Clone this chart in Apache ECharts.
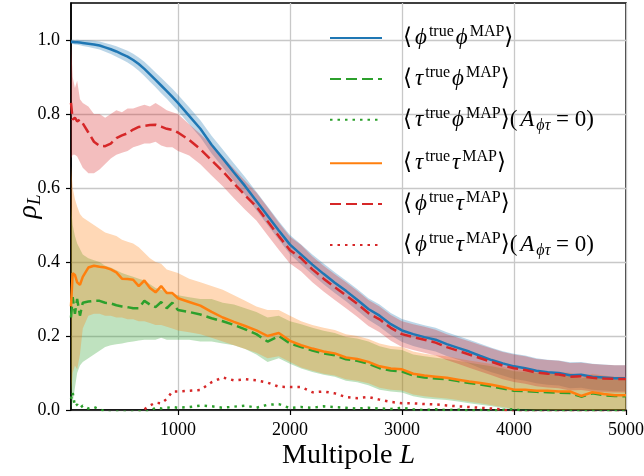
<!DOCTYPE html>
<html>
<head>
<meta charset="utf-8">
<script src="https://cdn.jsdelivr.net/npm/echarts@6/dist/echarts.min.js"></script>
<style>
  html, body { margin: 0; padding: 0; background: #fff; }
  #chart { width: 644px; height: 476px; }
</style>
</head>
<body>
<div id="chart"></div>
<script>
// multipole bins
var L = [45, 60, 80, 100, 125, 150, 200, 250, 300, 350, 400, 450, 500, 550, 600, 650, 700, 750, 800, 850, 900, 950, 1000,
  1100, 1200, 1300, 1400, 1500, 1600, 1700, 1800, 1900, 2000, 2100, 2200, 2300, 2400, 2500, 2600, 2700, 2800, 2900, 3000,
  3100, 3200, 3300, 3400, 3500, 3600, 3700, 3800, 3900, 4000, 4100, 4200, 4300, 4400, 4500, 4600, 4700, 4800, 4900, 5000];

// <phi_true phi_MAP>
var phiPhi = [0.995, 0.995, 0.994, 0.994, 0.993, 0.992, 0.99, 0.988, 0.985, 0.98, 0.975, 0.969, 0.962, 0.955, 0.946, 0.935, 0.922, 0.907, 0.892, 0.877, 0.862, 0.846, 0.83,
  0.795, 0.76, 0.717, 0.68, 0.642, 0.605, 0.565, 0.525, 0.485, 0.447, 0.42, 0.393, 0.368, 0.344, 0.322, 0.298, 0.273, 0.255, 0.232, 0.215,
  0.205, 0.197, 0.19, 0.178, 0.168, 0.158, 0.146, 0.135, 0.126, 0.118, 0.113, 0.106, 0.102, 0.1, 0.094, 0.095, 0.09, 0.088, 0.086, 0.086];
var phiPhiHi = [1.001, 1.001, 1.0, 1.001, 1.0, 1.0, 0.999, 0.998, 0.996, 0.992, 0.988, 0.983, 0.977, 0.971, 0.963, 0.953, 0.941, 0.927, 0.912, 0.898, 0.883, 0.868, 0.852,
  0.818, 0.783, 0.741, 0.704, 0.666, 0.629, 0.59, 0.55, 0.51, 0.473, 0.447, 0.42, 0.396, 0.372, 0.35, 0.327, 0.302, 0.285, 0.262, 0.246,
  0.237, 0.229, 0.222, 0.21, 0.2, 0.19, 0.179, 0.168, 0.159, 0.152, 0.147, 0.14, 0.136, 0.134, 0.129, 0.13, 0.125, 0.123, 0.121, 0.121];
var phiPhiLo = [0.989, 0.989, 0.988, 0.987, 0.986, 0.984, 0.981, 0.978, 0.974, 0.968, 0.962, 0.955, 0.947, 0.939, 0.929, 0.917, 0.903, 0.887, 0.872, 0.856, 0.841, 0.824, 0.808,
  0.772, 0.737, 0.693, 0.656, 0.618, 0.581, 0.54, 0.5, 0.46, 0.421, 0.393, 0.366, 0.34, 0.316, 0.294, 0.269, 0.244, 0.225, 0.202, 0.184,
  0.173, 0.165, 0.158, 0.146, 0.136, 0.126, 0.113, 0.102, 0.093, 0.084, 0.079, 0.072, 0.068, 0.066, 0.059, 0.06, 0.055, 0.053, 0.051, 0.051];

// <tau_true phi_MAP>
var tauPhi = [0.25, 0.305, 0.26, 0.3, 0.255, 0.29, 0.293, 0.295, 0.295, 0.29, 0.288, 0.283, 0.28, 0.278, 0.275, 0.275, 0.295, 0.285, 0.278, 0.292, 0.275, 0.29, 0.27,
  0.265, 0.258, 0.248, 0.24, 0.23, 0.218, 0.205, 0.185, 0.2, 0.18, 0.17, 0.161, 0.153, 0.148, 0.137, 0.133, 0.125, 0.113, 0.107, 0.104,
  0.093, 0.088, 0.085, 0.083, 0.078, 0.073, 0.069, 0.064, 0.058, 0.052, 0.051, 0.049, 0.048, 0.047, 0.046, 0.036, 0.045, 0.04, 0.038, 0.037];
var tauPhiHi = [0.55, 0.5, 0.47, 0.45, 0.435, 0.42, 0.41, 0.405, 0.4, 0.39, 0.385, 0.378, 0.37, 0.365, 0.36, 0.355, 0.35, 0.34, 0.33, 0.325, 0.32, 0.315, 0.31,
  0.305, 0.3, 0.3, 0.29, 0.285, 0.275, 0.265, 0.25, 0.255, 0.24, 0.232, 0.222, 0.214, 0.208, 0.197, 0.193, 0.185, 0.172, 0.165, 0.162,
  0.15, 0.145, 0.141, 0.138, 0.133, 0.128, 0.123, 0.118, 0.112, 0.105, 0.103, 0.1, 0.098, 0.097, 0.095, 0.085, 0.093, 0.088, 0.085, 0.084];
var tauPhiLo = [0, 0.02, 0.06, 0.1, 0.12, 0.13, 0.14, 0.15, 0.16, 0.17, 0.175, 0.178, 0.18, 0.183, 0.185, 0.188, 0.19, 0.19, 0.19, 0.195, 0.19, 0.19, 0.19,
  0.19, 0.185, 0.185, 0.18, 0.175, 0.165, 0.15, 0.13, 0.14, 0.125, 0.112, 0.103, 0.095, 0.09, 0.079, 0.075, 0.067, 0.055, 0.05, 0.047,
  0.037, 0.032, 0.029, 0.027, 0.023, 0.018, 0.014, 0.01, 0.005, 0, 0, 0, 0, 0, 0, 0, 0, 0, 0, 0];
// <tau_true phi_MAP>, A_phitau = 0
var tauPhiNull = [0.03, 0.048, 0.01, 0.015, 0.005, 0.012, 0.004, 0.008, 0.002, -0.004, -0.006, -0.005, -0.004, -0.006, -0.005, -0.004, -0.006, -0.002, 0.006, 0.004, 0.006, 0.008, 0.006,
  0.008, 0.012, 0.01, 0.006, 0.009, 0.012, 0.006, 0.014, 0.016, 0.005, 0.008, 0.006, 0.01, 0.008, 0.006, 0.004, 0.006, 0.004, 0.003, 0.006,
  0.002, 0.0, 0.002, 0.0, 0.001, -0.002, 0.0, -0.002, 0.0, 0.002, -0.003, -0.004, -0.003, -0.004, -0.003, -0.004, -0.003, -0.004, -0.003, -0.004];

// <tau_true tau_MAP>
var tauTau = [0.28, 0.37, 0.365, 0.345, 0.338, 0.36, 0.385, 0.39, 0.387, 0.385, 0.38, 0.372, 0.355, 0.354, 0.352, 0.335, 0.35, 0.33, 0.318, 0.335, 0.316, 0.316, 0.302,
  0.292, 0.282, 0.265, 0.25, 0.238, 0.227, 0.215, 0.2, 0.208, 0.187, 0.175, 0.166, 0.158, 0.153, 0.142, 0.138, 0.13, 0.118, 0.112, 0.11,
  0.098, 0.093, 0.09, 0.087, 0.082, 0.077, 0.073, 0.068, 0.062, 0.055, 0.055, 0.052, 0.052, 0.05, 0.05, 0.038, 0.048, 0.043, 0.04, 0.04];
var tauTauHi = [0.66, 0.6, 0.57, 0.55, 0.53, 0.52, 0.51, 0.5, 0.49, 0.48, 0.475, 0.47, 0.46, 0.455, 0.45, 0.44, 0.425, 0.41, 0.4, 0.395, 0.38, 0.375, 0.37,
  0.355, 0.345, 0.335, 0.325, 0.31, 0.295, 0.28, 0.27, 0.27, 0.255, 0.24, 0.23, 0.222, 0.216, 0.205, 0.2, 0.192, 0.18, 0.173, 0.17,
  0.158, 0.152, 0.148, 0.145, 0.139, 0.134, 0.129, 0.124, 0.117, 0.11, 0.109, 0.105, 0.104, 0.102, 0.101, 0.09, 0.098, 0.093, 0.09, 0.09];
var tauTauLo = [0.04, 0.1, 0.12, 0.11, 0.15, 0.22, 0.255, 0.26, 0.26, 0.255, 0.255, 0.25, 0.25, 0.245, 0.245, 0.24, 0.24, 0.235, 0.23, 0.23, 0.225, 0.22, 0.215,
  0.21, 0.205, 0.195, 0.185, 0.175, 0.165, 0.155, 0.14, 0.145, 0.13, 0.115, 0.106, 0.098, 0.093, 0.083, 0.079, 0.072, 0.06, 0.055, 0.053,
  0.042, 0.037, 0.034, 0.031, 0.027, 0.022, 0.018, 0.013, 0.008, 0.003, 0.003, 0.001, 0.001, 0, 0, 0, 0, 0, 0, 0];

// <phi_true tau_MAP>
var phiTau = [0.83, 0.785, 0.79, 0.78, 0.785, 0.775, 0.75, 0.725, 0.714, 0.713, 0.72, 0.735, 0.742, 0.748, 0.758, 0.765, 0.768, 0.77, 0.771, 0.766, 0.76, 0.757, 0.75,
  0.73, 0.705, 0.675, 0.645, 0.612, 0.58, 0.55, 0.51, 0.47, 0.432, 0.41, 0.38, 0.355, 0.332, 0.31, 0.287, 0.262, 0.245, 0.222, 0.205,
  0.197, 0.19, 0.182, 0.17, 0.16, 0.15, 0.14, 0.13, 0.12, 0.113, 0.108, 0.101, 0.098, 0.096, 0.09, 0.091, 0.087, 0.085, 0.084, 0.084];
var phiTauHi = [0.99, 0.9, 0.87, 0.89, 0.84, 0.83, 0.82, 0.8, 0.8, 0.79, 0.8, 0.81, 0.805, 0.815, 0.815, 0.82, 0.825, 0.82, 0.83, 0.82, 0.81, 0.805, 0.8,
  0.772, 0.746, 0.716, 0.685, 0.652, 0.619, 0.588, 0.548, 0.507, 0.468, 0.446, 0.415, 0.39, 0.367, 0.345, 0.322, 0.297, 0.28, 0.257, 0.24,
  0.232, 0.225, 0.217, 0.205, 0.195, 0.186, 0.176, 0.166, 0.157, 0.15, 0.145, 0.138, 0.135, 0.133, 0.127, 0.128, 0.124, 0.122, 0.121, 0.121];
var phiTauLo = [0.68, 0.69, 0.69, 0.685, 0.67, 0.655, 0.64, 0.64, 0.65, 0.665, 0.68, 0.69, 0.695, 0.7, 0.71, 0.715, 0.72, 0.72, 0.725, 0.715, 0.71, 0.71, 0.7,
  0.688, 0.664, 0.634, 0.605, 0.572, 0.541, 0.512, 0.472, 0.433, 0.396, 0.374, 0.345, 0.32, 0.297, 0.275, 0.252, 0.227, 0.21, 0.187, 0.17,
  0.162, 0.155, 0.147, 0.135, 0.125, 0.114, 0.104, 0.094, 0.083, 0.076, 0.071, 0.064, 0.061, 0.059, 0.053, 0.054, 0.05, 0.048, 0.047, 0.047];
// <phi_true tau_MAP>, A_phitau = 0
var phiTauNull = [-0.01, -0.01, -0.01, -0.01, -0.01, -0.01, -0.01, -0.01, -0.01, -0.01, -0.01, -0.01, -0.01, -0.01, -0.01, -0.01, 0.002, 0.012, 0.02, 0.018, 0.03, 0.05, 0.05,
  0.052, 0.054, 0.075, 0.088, 0.08, 0.083, 0.08, 0.074, 0.063, 0.062, 0.062, 0.048, 0.05, 0.045, 0.035, 0.032, 0.035, 0.028, 0.022, 0.018,
  0.018, 0.016, 0.015, 0.012, 0.01, 0.008, 0.006, 0.004, 0.001, -0.006, -0.006, -0.006, -0.006, -0.006, -0.006, -0.006, -0.006, -0.006, -0.006, -0.006];

var xTicks = [1000, 2000, 3000, 4000, 5000];
var yTicks = [0, 0.2, 0.4, 0.6, 0.8, 1.0];

var SERIF = "'Liberation Serif', 'DejaVu Serif', serif";
var C = { blue: '#1f77b4', orange: '#ff7f0e', green: '#2ca02c', red: '#d62728' };
var FILL = { blue: 'rgba(31,119,180,0.3)', orange: 'rgba(255,127,14,0.3)', green: 'rgba(44,160,44,0.3)', red: 'rgba(214,39,40,0.3)' };
var DASH = [11, 5], DOT = [2.5, 5];

var legendText = {
  pp: '{b|⟨}{g|ϕ}{s|true}{g|ϕ}{s|MAP}{b|⟩}',
  tp: '{b|⟨}{g|τ}{s|true}{g|ϕ}{s|MAP}{b|⟩}',
  tp0: '{b|⟨}{g|τ}{s|true}{g|ϕ}{s|MAP}{b|⟩(}{g|A}{u|ϕτ}{b| = 0)}',
  tt: '{b|⟨}{g|τ}{s|true}{g|τ}{s|MAP}{b|⟩}',
  pt: '{b|⟨}{g|ϕ}{s|true}{g|τ}{s|MAP}{b|⟩}',
  pt0: '{b|⟨}{g|ϕ}{s|true}{g|τ}{s|MAP}{b|⟩(}{g|A}{u|ϕτ}{b| = 0)}'
};

function pairs(ys) {
  return L.map(function(x, i) { return [x, ys[i]]; });
}

// shaded band between lo and hi, drawn as one polygon through the axes
function band(lo, hi, fill) {
  return {
    type: 'custom', silent: true, clip: true,
    data: L.map(function(x, i) { return [x, lo[i], hi[i]]; }),
    encode: { x: 0, y: [1, 2] },
    renderItem: function(params, api) {
      if (params.dataIndex !== 0) return null;
      var pts = [];
      for (var i = 0; i < L.length; i++) pts.push(api.coord([L[i], hi[i]]));
      for (var j = L.length - 1; j >= 0; j--) pts.push(api.coord([L[j], lo[j]]));
      return { type: 'polygon', shape: { points: pts }, style: { fill: fill, stroke: null } };
    }
  };
}

function line(name, ys, color, type) {
  return {
    type: 'line', name: name, data: pairs(ys), symbol: 'none',
    itemStyle: { color: color },
    lineStyle: { color: color, width: 2.5, type: type, cap: 'butt' }
  };
}

var series = [
  band(phiPhiLo, phiPhiHi, FILL.blue),
  line('pp', phiPhi, C.blue, 'solid'),
  band(tauPhiLo, tauPhiHi, FILL.green),
  line('tp', tauPhi, C.green, DASH),
  line('tp0', tauPhiNull, C.green, DOT),
  band(tauTauLo, tauTauHi, FILL.orange),
  line('tt', tauTau, C.orange, 'solid'),
  band(phiTauLo, phiTauHi, FILL.red),
  line('pt', phiTau, C.red, DASH),
  line('pt0', phiTauNull, C.red, DOT)
];

var chart = echarts.init(document.getElementById('chart'), null, { renderer: 'canvas' });
chart.setOption({
  animation: false,
  backgroundColor: '#fff',
  textStyle: { fontFamily: SERIF, color: '#000' },
  grid: {
    left: 71, right: 18, top: 3, bottom: 66, outerBoundsMode: 'none',
    show: true, borderColor: '#000', borderWidth: 1.5, backgroundColor: 'transparent'
  },
  legend: {
    data: ['pp', 'tp', 'tp0', 'tt', 'pt', 'pt0'],
    orient: 'vertical', left: 329, top: 24, padding: 0,
    itemWidth: 52, itemHeight: 14, itemGap: 15.4,
    itemStyle: { opacity: 0, borderWidth: 0 },
    formatter: function(n) { return legendText[n]; },
    textStyle: {
      padding: [0, 0, 0, 16],
      rich: {
        b: { fontFamily: SERIF, fontSize: 23, lineHeight: 28, padding: [0, 1, 0, 0], color: '#000' },
        g: { fontFamily: SERIF, fontSize: 23, lineHeight: 28, padding: [0, 2, 0, 2], fontStyle: 'italic', color: '#000' },
        s: { fontFamily: SERIF, fontSize: 16, lineHeight: 18, verticalAlign: 'top', color: '#000' },
        u: { fontFamily: SERIF, fontSize: 16, lineHeight: 16, verticalAlign: 'bottom', fontStyle: 'italic', color: '#000' }
      }
    }
  },
  xAxis: {
    type: 'value', min: 45, max: 5000,
    name: '{t|Multipole }{i|L}', nameLocation: 'middle', nameGap: 32, nameMoveOverlap: false,
    nameTextStyle: {
      rich: {
        t: { fontFamily: SERIF, fontSize: 28, color: '#000' },
        i: { fontFamily: SERIF, fontSize: 28, fontStyle: 'italic', color: '#000' }
      }
    },
    axisLine: { show: true, lineStyle: { color: '#000', width: 1.5 } },
    axisTick: { show: true, length: 5, customValues: xTicks, lineStyle: { color: '#000', width: 1.2 } },
    axisLabel: {
      customValues: xTicks, fontSize: 18, color: '#000', fontFamily: SERIF, margin: 11,
      formatter: function(v) { return String(v); }
    },
    splitLine: { show: true, lineStyle: { color: '#c8c8c8', width: 1.3 } }
  },
  yAxis: {
    type: 'value', min: 0, max: 1.1,
    name: '{r|ρ}{s|L}', nameLocation: 'middle', nameGap: 27, nameRotate: 90, nameMoveOverlap: false,
    nameTextStyle: {
      rich: {
        r: { fontFamily: SERIF, fontSize: 28, lineHeight: 30, fontStyle: 'italic', color: '#000' },
        s: { fontFamily: SERIF, fontSize: 19, lineHeight: 20, verticalAlign: 'bottom', fontStyle: 'italic', color: '#000' }
      }
    },
    axisLine: { show: true, lineStyle: { color: '#000', width: 1.5 } },
    axisTick: { show: true, length: 5, customValues: yTicks, lineStyle: { color: '#000', width: 1.2 } },
    axisLabel: {
      customValues: yTicks, fontSize: 18, color: '#000', fontFamily: SERIF, margin: 11,
      formatter: function(v) { return v.toFixed(1); }
    },
    splitLine: { show: true, lineStyle: { color: '#c8c8c8', width: 1.3 } }
  },
  series: series
});
</script>
</body>
</html>
